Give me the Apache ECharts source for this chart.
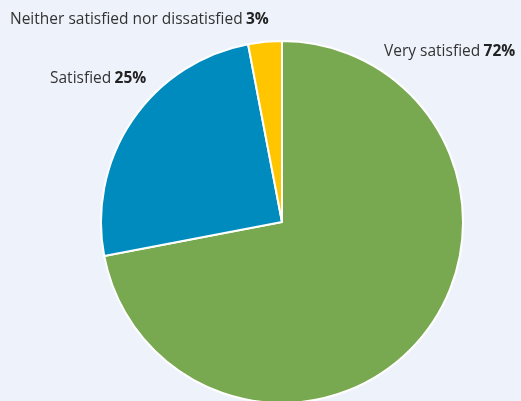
<!DOCTYPE html>
<html>
<head>
<meta charset="utf-8">
<script src="https://cdn.jsdelivr.net/npm/echarts@6/dist/echarts.min.js"></script>
<style>
  html, body { margin: 0; padding: 0; background: #eef3fb; }
  #chart { width: 521px; height: 401px; }
</style>
</head>
<body>
<div id="chart"></div>
<script>
// Satisfaction survey shares (percent)
const categories = ['Very satisfied', 'Satisfied', 'Neither satisfied nor dissatisfied'];
const shares = [72, 25, 3];
const colors = ['#78a850', '#008bbe', '#ffc600'];

// Fixed label anchors (left edge, vertical middle) for each slice
const labelAnchors = [
  { x: 384, y: 52 },
  { x: 50, y: 79 },
  { x: 10, y: 20 }
];

const chart = echarts.init(document.getElementById('chart'), null, { renderer: 'canvas' });

chart.setOption({
  backgroundColor: '#eef3fb',
  animation: false,
  series: [{
    type: 'pie',
    center: [282, 222],
    radius: 181,
    startAngle: 90,
    clockwise: true,
    itemStyle: { borderColor: '#ffffff', borderWidth: 2 },
    labelLine: { show: false },
    label: {
      show: true,
      position: 'outside',
      overflow: 'none',
      width: 400,
      formatter: '{n|{b}} {v|{c}%}',
      rich: {
        n: { fontFamily: 'Open Sans', fontSize: 15.5, color: '#333333' },
        v: { fontFamily: 'Open Sans', fontSize: 15.5, fontWeight: 'bold', color: '#222222' }
      }
    },
    labelLayout: function (params) {
      const a = labelAnchors[params.dataIndex];
      return { x: a.x, y: a.y, align: 'left', verticalAlign: 'middle' };
    },
    data: categories.map((name, i) => ({
      name: name,
      value: shares[i],
      itemStyle: { color: colors[i] }
    }))
  }]
});
</script>
</body>
</html>
